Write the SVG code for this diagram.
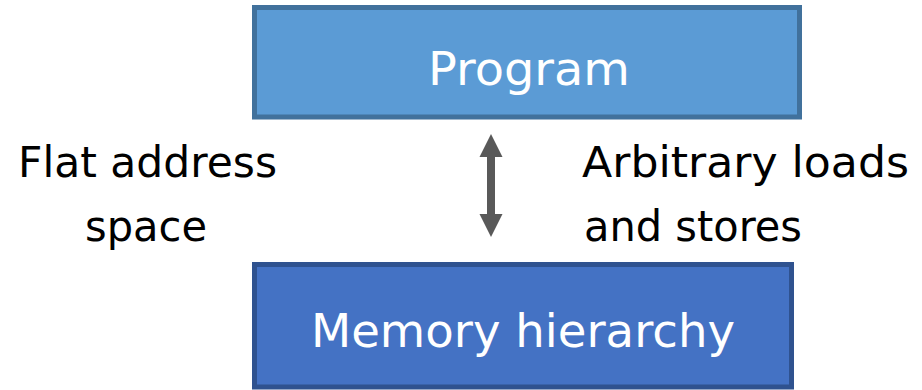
<svg xmlns="http://www.w3.org/2000/svg" width="922" height="390" viewBox="0 0 922 390">
<style>
.lbl{font-family:"DejaVu Sans","Liberation Sans",sans-serif;font-size:43px;fill:#000}
.nt{font-family:"DejaVu Sans","Liberation Sans",sans-serif;font-size:47px;fill:#fff}
</style>
<rect width="922" height="390" fill="#fff"/>
<g id="program">
<rect x="254.5" y="7.5" width="545" height="109.5" fill="#5B9BD5" stroke="#41719C" stroke-width="5"/>
<text class="nt" x="428" y="85" textLength="202" lengthAdjust="spacingAndGlyphs">Program</text>
</g>
<g id="memory">
<rect x="254.5" y="264.5" width="537" height="122.5" fill="#4472C4" stroke="#2F528F" stroke-width="5"/>
<text class="nt" x="311" y="347" textLength="424" lengthAdjust="spacingAndGlyphs">Memory hierarchy</text>
</g>
<g id="connectors">
<path d="M491 134 L502.5 157 L495 157 L495 214 L502.5 214 L491 237 L479.5 214 L487 214 L487 157 L479.5 157 Z" fill="#595959"/>
</g>
<g id="labels">
<text class="lbl" x="18" y="177" textLength="259" lengthAdjust="spacingAndGlyphs">Flat address</text>
<text class="lbl" x="85" y="241" textLength="122" lengthAdjust="spacingAndGlyphs">space</text>
<text class="lbl" x="582" y="177" textLength="327" lengthAdjust="spacingAndGlyphs">Arbitrary loads</text>
<text class="lbl" x="584" y="241" textLength="218" lengthAdjust="spacingAndGlyphs">and stores</text>
</g>
</svg>
